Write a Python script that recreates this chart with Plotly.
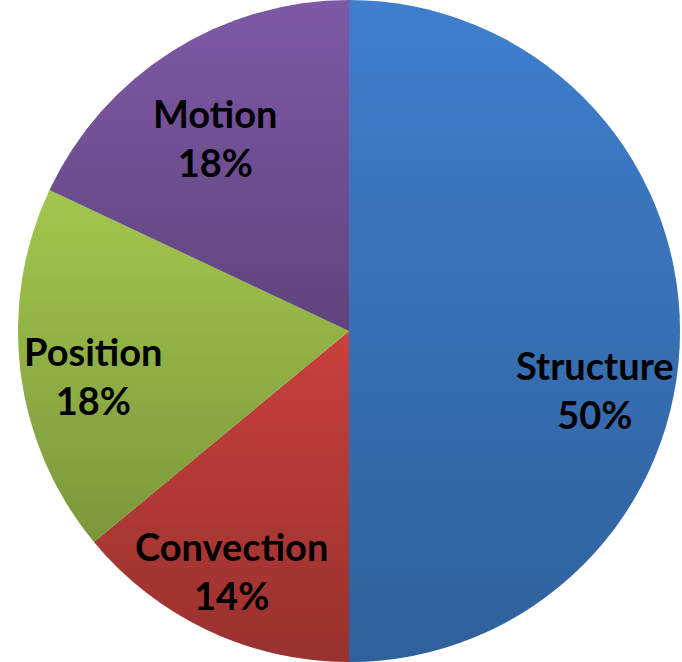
import math
import plotly.graph_objects as go

# Share of each category (percent), drawn clockwise from 12 o'clock
labels = ["Structure", "Convection", "Position", "Motion"]
values = [50, 14, 18, 18]
colors = ["#3f7fcd", "#c9413d", "#a3c74e", "#7e5aa6"]

# Centre of each slice label in pixels (x, y from top-left)
label_pos = [(595, 389), (232, 570), (93, 375), (215, 137)]

W, H = 682, 662
X0, X1 = 17, 681          # horizontal extent of the pie domain in pixels
DARKEN = 0.24             # strength of the top-to-bottom shading on each slice
BAND = 4                  # height of one shading band in pixels

fig = go.Figure(go.Pie(
    labels=labels,
    values=values,
    sort=False,
    direction="clockwise",
    rotation=0,
    marker=dict(colors=colors, line=dict(width=0)),
    textinfo="none",
    hoverinfo="label+percent",
    showlegend=False,
    domain=dict(x=[X0 / W, X1 / W], y=[0, 1]),
))

# Pie geometry in pixels (plotly uses the smaller domain side as diameter)
R = min(X1 - X0, H) / 2
cx, cy = (X0 + X1) / 2, H / 2


def clip(poly, y_lo, y_hi):
    """Clip a convex polygon to the horizontal strip y_lo <= y <= y_hi."""
    def cut(pts, inside, cross):
        out = []
        for i, p in enumerate(pts):
            q = pts[i - 1]
            if inside(p):
                if not inside(q):
                    out.append(cross(q, p))
                out.append(p)
            elif inside(q):
                out.append(cross(q, p))
        return out

    def at(yv):
        def f(a, b):
            t = (yv - a[1]) / (b[1] - a[1])
            return (a[0] + t * (b[0] - a[0]), yv)
        return f

    pts = cut(poly, lambda p: p[1] >= y_lo, at(y_lo))
    if pts:
        pts = cut(pts, lambda p: p[1] <= y_hi, at(y_hi))
    return pts


shapes = []
total = sum(values)
start = 0.0
for v in values:
    sweep = 360.0 * v / total
    n = max(2, int(sweep / 0.5))
    wedge = [(cx, cy)]
    for k in range(n + 1):
        th = math.radians(start + sweep * k / n)
        wedge.append((cx + R * math.sin(th), cy - R * math.cos(th)))
    start += sweep

    ys = [p[1] for p in wedge]
    top, bot = min(ys), max(ys)
    yb = math.floor(top)
    while yb < bot:
        y2 = min(yb + BAND, math.ceil(bot))
        piece = clip(wedge, yb, y2)
        if len(piece) >= 3:
            mid = ((yb + y2) / 2 - top) / max(bot - top, 1)
            alpha = DARKEN * min(max(mid, 0), 1)
            path = "M " + " L ".join(
                f"{px / W:.6f},{1 - py / H:.6f}" for px, py in piece) + " Z"
            shapes.append(dict(
                type="path", path=path, xref="paper", yref="paper",
                fillcolor=f"rgba(0,0,0,{alpha:.3f})",
                line=dict(width=0), layer="above",
            ))
        yb = y2

# Slice labels: name and percentage, bold, centred on each slice
annotations = []
for lab, val, (px, py) in zip(labels, values, label_pos):
    annotations.append(dict(
        text=f"<b>{lab}</b><br><b>{val / total * 100:.0f}%</b>",
        x=px / W, y=1 - py / H, xref="paper", yref="paper",
        xanchor="center", yanchor="middle", align="center",
        showarrow=False,
        font=dict(family="Lato", size=38, color="black"),
    ))

fig.update_layout(
    width=W, height=H,
    margin=dict(l=0, r=0, t=0, b=0),
    paper_bgcolor="white",
    plot_bgcolor="white",
    shapes=shapes,
    annotations=annotations,
)

fig.write_html("out.html")
